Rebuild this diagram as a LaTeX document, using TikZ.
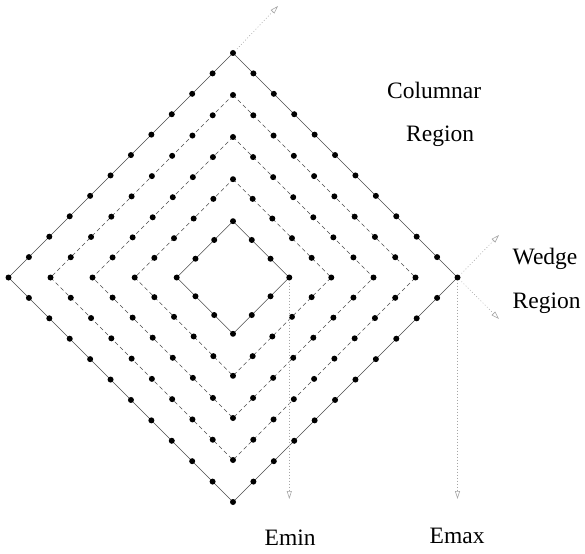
\documentclass[tikz,border=0pt]{standalone}
\usepackage{fontspec}
\setmainfont{Liberation Serif}
\usetikzlibrary{calc,arrows.meta}
\begin{document}
\begin{tikzpicture}[x=1pt,y=-1pt,
  solidedge/.style={draw=black!70,line width=0.6pt},
  dashedge/.style={draw=black!70,line width=0.6pt,dash pattern=on 4pt off 3pt},
  dot/.style={circle,fill=black,inner sep=0pt,minimum size=6pt},
  guide/.style={draw=black!35,line width=0.6pt,dash pattern=on 0.8pt off 2.2pt,
    -{Triangle[open,length=8pt,width=5pt,sep=0pt]}},
  lbl/.style={inner sep=0pt,anchor=base west,font=\fontsize{23.5}{28}\selectfont}]
\useasboundingbox (0,0) rectangle (585,553);
\foreach \r/\n/\s [count=\k] in {224.5/11/solidedge,182.5/9/dashedge,140.5/7/dashedge,98.3/5/dashedge,56.3/3/solidedge}{
  \coordinate (T\k) at (233,{277.5-\r});
  \coordinate (R\k) at ({233+\r},277.5);
  \coordinate (B\k) at (233,{277.5+\r});
  \coordinate (L\k) at ({233-\r},277.5);
  \draw[\s] (T\k) -- (R\k) -- (B\k) -- (L\k) -- cycle;
  \foreach \i in {1,...,\n}{
    \node[dot] (TR\k-\i) at ($(T\k)!{\i/\n}!(R\k)$) {};
    \node[dot] (RB\k-\i) at ($(R\k)!{\i/\n}!(B\k)$) {};
    \node[dot] (BL\k-\i) at ($(B\k)!{\i/\n}!(L\k)$) {};
    \node[dot] (LT\k-\i) at ($(L\k)!{\i/\n}!(T\k)$) {};
  }
}
\coordinate (topend) at (278,6);
\coordinate (wedgeup) at (499,235);
\coordinate (wedgedown) at (499,319);
\coordinate (eminend) at (289.3,499);
\coordinate (emaxend) at (457.5,499);
\draw[guide] ($(T1)+(4,-4)$) -- (topend);
\draw[guide] ($(R1)+(4,-4)$) -- (wedgeup);
\draw[guide] ($(R1)+(4,4)$) -- (wedgedown);
\draw[guide] ($(R5)+(0,5)$) -- (eminend);
\draw[guide] ($(R1)+(0,5)$) -- (emaxend);
\node[lbl] (colA) at (387,99) {Columnar};
\node[lbl] (colB) at (406,141.5) {Region};
\node[lbl] (wedA) at (512.5,264.5) {Wedge};
\node[lbl] (wedB) at (512.5,308) {Region};
\node[lbl] (emin) at (264.5,545) {Emin};
\node[lbl] (emax) at (429.5,543.5) {Emax};
\end{tikzpicture}
\end{document}
